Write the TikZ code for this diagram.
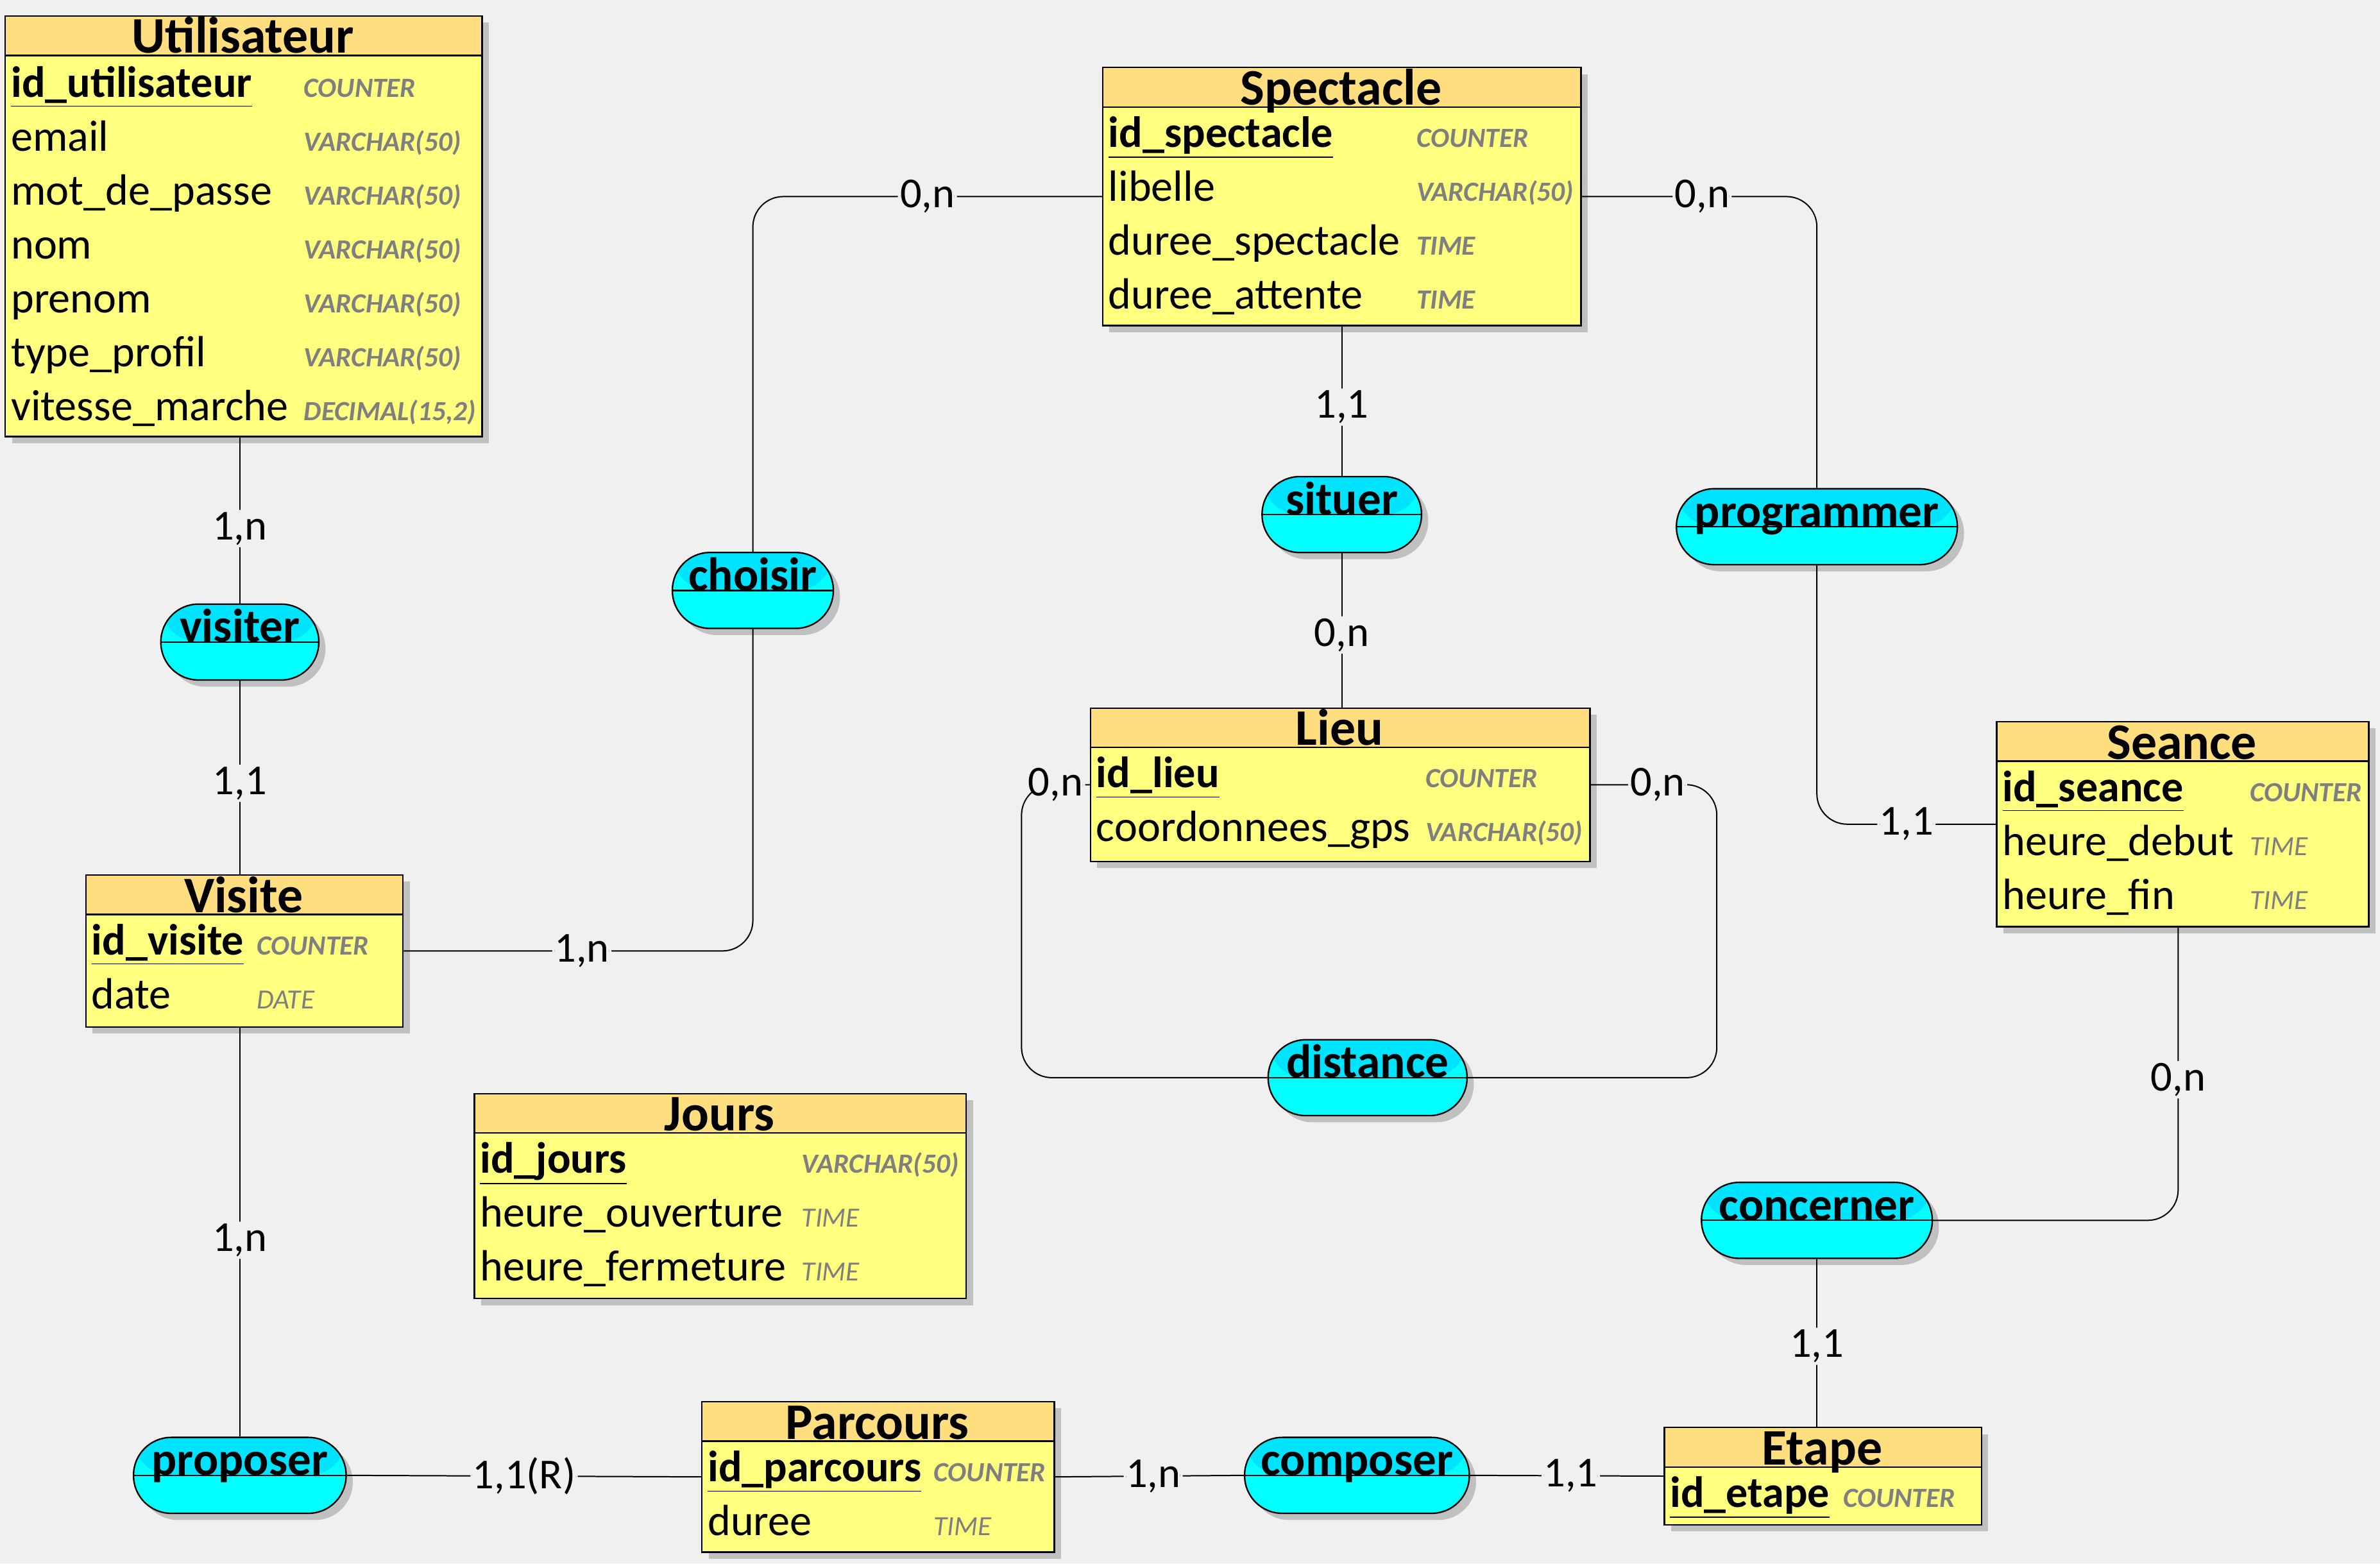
\documentclass[tikz,border=0pt]{standalone}
\usepackage{fontspec}
\setmainfont{Carlito}
\usetikzlibrary{shadows}
\definecolor{fond}{HTML}{F0F0F0}
\definecolor{entete-fond}{HTML}{FFDE7F}
\definecolor{corps-fond}{HTML}{FFFF7F}
\definecolor{assoc-haut}{HTML}{00E3FF}
\definecolor{assoc-bas}{HTML}{00FFFF}
\definecolor{ombre}{HTML}{C0C0C0}
\definecolor{type-gris}{HTML}{7F7F7F}

\tikzset{
  ombrage/.style={drop shadow={shadow xshift=0.11cm, shadow yshift=-0.11cm, fill=ombre, opacity=1}},
  entite/.style={draw, fill=corps-fond, line width=0.7pt, inner sep=0pt, anchor=north west, ombrage},
  entete/.style={draw, fill=entete-fond, line width=0.7pt, inner sep=0pt, anchor=north west, minimum height=0.65cm},
  titre/.style={font=\fontsize{24}{28}\selectfont\bfseries, anchor=base, inner sep=0pt},
  attribut/.style={font=\fontsize{20.5}{25}\selectfont, anchor=base west, inner sep=0pt},
  identifiant/.style={attribut, font=\fontsize{20.5}{25}\selectfont\bfseries},
  typage/.style={font=\fontsize{13}{16}\selectfont\bfseries\itshape, text=type-gris, anchor=base west, inner sep=0pt},
  assoc/.style={draw, line width=0.7pt, fill=assoc-bas, rounded corners=0.62cm, minimum height=1.25cm,
    inner xsep=0.2cm, inner ysep=0pt, text height=0.6cm, text depth=0.6cm,
    font=\fontsize{22}{26}\selectfont\bfseries, ombrage,
    path picture={\fill[assoc-haut] (path picture bounding box.north west) rectangle (path picture bounding box.east);
      \draw[line width=0.7pt] (path picture bounding box.west) -- (path picture bounding box.east);}},
  lien/.style={line width=0.6pt, rounded corners=0.5cm},
  card/.style={font=\fontsize{20}{24}\selectfont, fill=fond, inner sep=1pt}
}

\begin{document}
\begin{tikzpicture}[x=0.025cm, y=-0.025cm]
  % Picture in pixels of a 1568 x 1030 grid, y downwards.
  %   entities: top-left corner, width, height; rows every 35.5 below the header
  %   associations: centre of the pill, text sits on the middle line
  \fill[fond] (0,0) rectangle (1568,1030);
  \useasboundingbox (0,0) rectangle (1568,1030);

  % Utilisateur
  \node[entite, minimum width=7.85cm, minimum height=6.925cm] (utilisateur) at (3,10) {};
  \node[entete, minimum width=7.85cm] (utilisateur-h) at (utilisateur.north west) {};
  \node[titre] (utilisateur-t) at (160,35) {Utilisateur};
  \node[identifiant] (utilisateur-id) at (7,64) {\underline{id\_utilisateur}};
  \node[typage] (utilisateur-tid) at (200,64) {COUNTER};
  \foreach \attr/\type [count=\i] in {email/VARCHAR(50), mot\_de\_passe/VARCHAR(50),
      nom/VARCHAR(50), prenom/VARCHAR(50), type\_profil/VARCHAR(50), vitesse\_marche/{DECIMAL(15,2)}} {
    \node[attribut] (utilisateur-a\i) at (7,{64+35.5*\i}) {\attr};
    \node[typage] (utilisateur-b\i) at (200,{64+35.5*\i}) {\type};
  }

  % Spectacle
  \node[entite, minimum width=7.875cm, minimum height=4.25cm] (spectacle) at (726,44) {};
  \node[entete, minimum width=7.875cm] (spectacle-h) at (spectacle.north west) {};
  \node[titre] (spectacle-t) at (883.5,69) {Spectacle};
  \node[identifiant] (spectacle-id) at (730,97) {\underline{id\_spectacle}};
  \node[typage] (spectacle-tid) at (933,97) {COUNTER};
  \foreach \attr/\type [count=\i] in {libelle/VARCHAR(50), duree\_spectacle/TIME, duree\_attente/TIME} {
    \node[attribut] (spectacle-a\i) at (730,{97+35.5*\i}) {\attr};
    \node[typage] (spectacle-b\i) at (933,{97+35.5*\i}) {\type};
  }

  % Lieu
  \node[entite, minimum width=8.225cm, minimum height=2.525cm] (lieu) at (718,466) {};
  \node[entete, minimum width=8.225cm] (lieu-h) at (lieu.north west) {};
  \node[titre] (lieu-t) at (882.5,491) {Lieu};
  \node[identifiant] (lieu-id) at (722,519) {\underline{id\_lieu}};
  \node[typage] (lieu-tid) at (939,519) {COUNTER};
  \node[attribut] (lieu-a1) at (722,554.5) {coordonnees\_gps};
  \node[typage] (lieu-b1) at (939,554.5) {VARCHAR(50)};

  % Seance
  \node[entite, minimum width=6.125cm, minimum height=3.375cm] (seance) at (1315,475) {};
  \node[entete, minimum width=6.125cm] (seance-h) at (seance.north west) {};
  \node[titre] (seance-t) at (1437.5,500) {Seance};
  \node[identifiant] (seance-id) at (1319,528) {\underline{id\_seance}};
  \node[typage] (seance-tid) at (1482,528) {COUNTER};
  \foreach \attr [count=\i] in {heure\_debut, heure\_fin} {
    \node[attribut] (seance-a\i) at (1319,{528+35.5*\i}) {\attr};
    \node[typage] (seance-b\i) at (1482,{528+35.5*\i}) {\mdseries TIME};
  }

  % Visite
  \node[entite, minimum width=5.225cm, minimum height=2.5cm] (visite) at (56,576) {};
  \node[entete, minimum width=5.225cm] (visite-h) at (visite.north west) {};
  \node[titre] (visite-t) at (160.5,601) {Visite};
  \node[identifiant] (visite-id) at (60,629) {\underline{id\_visite}};
  \node[typage] (visite-tid) at (169,629) {COUNTER};
  \node[attribut] (visite-a1) at (60,664.5) {date};
  \node[typage] (visite-b1) at (169,664.5) {\mdseries DATE};

  % Jours
  \node[entite, minimum width=8.1cm, minimum height=3.375cm] (jours) at (312,720) {};
  \node[entete, minimum width=8.1cm] (jours-h) at (jours.north west) {};
  \node[titre] (jours-t) at (474,745) {Jours};
  \node[identifiant] (jours-id) at (316,773) {\underline{id\_jours}};
  \node[typage] (jours-tid) at (528,773) {VARCHAR(50)};
  \foreach \attr [count=\i] in {heure\_ouverture, heure\_fermeture} {
    \node[attribut] (jours-a\i) at (316,{773+35.5*\i}) {\attr};
    \node[typage] (jours-b\i) at (528,{773+35.5*\i}) {\mdseries TIME};
  }

  % Parcours
  \node[entite, minimum width=5.8cm, minimum height=2.475cm] (parcours) at (462,923) {};
  \node[entete, minimum width=5.8cm] (parcours-h) at (parcours.north west) {};
  \node[titre] (parcours-t) at (578,948) {Parcours};
  \node[identifiant] (parcours-id) at (466,976) {\underline{id\_parcours}};
  \node[typage] (parcours-tid) at (615,976) {COUNTER};
  \node[attribut] (parcours-a1) at (466,1011.5) {duree};
  \node[typage] (parcours-b1) at (615,1011.5) {\mdseries TIME};

  % Etape
  \node[entite, minimum width=5.225cm, minimum height=1.6cm] (etape) at (1096,940) {};
  \node[entete, minimum width=5.225cm] (etape-h) at (etape.north west) {};
  \node[titre] (etape-t) at (1200.5,965) {Etape};
  \node[identifiant] (etape-id) at (1100,993) {\underline{id\_etape}};
  \node[typage] (etape-tid) at (1214,993) {COUNTER};

  % associations
  \node[assoc, minimum width=2.6cm] (visiter) at (158,423) {visiter};
  \node[assoc, minimum width=2.65cm] (choisir) at (496,389) {choisir};
  \node[assoc, minimum width=2.625cm] (situer) at (884,339) {situer};
  \node[assoc, minimum width=4.625cm] (programmer) at (1197,347) {programmer};
  \node[assoc, minimum width=3.275cm] (distance) at (901,710) {distance};
  \node[assoc, minimum width=3.8cm] (concerner) at (1197,804) {concerner};
  \node[assoc, minimum width=3.5cm] (proposer) at (158,972) {proposer};
  \node[assoc, minimum width=3.7cm] (composer) at (894,972) {composer};

  % links with cardinalities
  \draw[lien] (visiter.north) -- (visiter.north |- utilisateur.south) node[card, pos=0.45] {1,n};
  \draw[lien] (visiter.south) -- (visiter.south |- visite.north) node[card, pos=0.53] {1,1};
  \draw[lien] (visite.east) -| (choisir.south) node[card, pos=0.255] {1,n};
  \draw[lien] (choisir.north) |- (spectacle.west) node[card, pos=0.75] {0,n};
  \draw[lien] (spectacle.east) -| (programmer.north) node[card, pos=0.256] {0,n};
  \draw[lien] (programmer.south) |- (seance.west) node[card, pos=0.75] {1,1};
  \draw[lien] (situer.north |- spectacle.south) -- (situer.north) node[card, pos=0.54] {1,1};
  \draw[lien] (situer.south) -- (situer.south |- lieu.north) node[card, pos=0.53] {0,n};
  \draw[lien] (lieu.west) -- ++(-45,0) node[card, midway] {0,n} |- (distance.west);
  \draw[lien] (lieu.east) -- ++(83,0) node[card, pos=0.53] {0,n} |- (distance.east);
  \draw[lien] (seance.south -| 1435,0) |- (concerner.east) node[card, pos=0.26] {0,n};
  \draw[lien] (concerner.south) -- (concerner.south |- etape.north) node[card, pos=0.52] {1,1};
  \draw[lien] (proposer.north |- visite.south) -- (proposer.north) node[card, pos=0.52] {1,n};
  \draw[lien] (proposer.east) -- (parcours.west) node[card, midway] {1,1(R)};
  \draw[lien] (parcours.east) -- (composer.west) node[card, pos=0.52] {1,n};
  \draw[lien] (composer.east) -- (etape.west) node[card, pos=0.52] {1,1};
\end{tikzpicture}
\end{document}
